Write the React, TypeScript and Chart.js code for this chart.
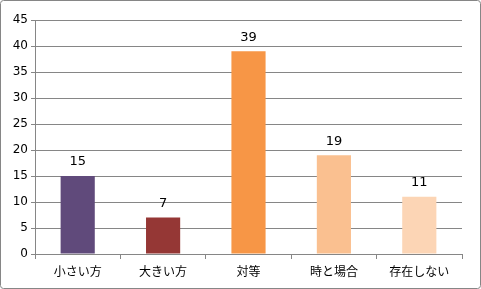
import React, { useEffect, useRef } from "react";
import { Chart, registerables } from "chart.js";

Chart.register(...registerables);

const categories = ["小さい方", "大きい方", "対等", "時と場合", "存在しない"];
const values = [15, 7, 39, 19, 11];
const barColors = ["#604A7B", "#953735", "#F79646", "#FAC090", "#FCD5B5"];
const yTicks = [0, 5, 10, 15, 20, 25, 30, 35, 40, 45];

const valueLabels = {
  id: "valueLabels",
  afterDatasetsDraw(chart: any) {
    const ctx = chart.ctx;
    const meta = chart.getDatasetMeta(0);
    ctx.save();
    ctx.font = '13px "DejaVu Sans", sans-serif';
    ctx.fillStyle = "#000000";
    ctx.textAlign = "center";
    ctx.textBaseline = "middle";
    meta.data.forEach((el: any, i: number) => {
      ctx.fillText(String(values[i]), el.x, el.y - 14);
    });
    ctx.restore();
  },
};

const frame = {
  id: "frame",
  beforeDraw(chart: any) {
    const ctx = chart.ctx;
    ctx.save();
    ctx.fillStyle = "#FFFFFF";
    ctx.fillRect(0, 0, chart.width, chart.height);
    ctx.strokeStyle = "#868686";
    ctx.lineWidth = 1;
    ctx.beginPath();
    (ctx as any).roundRect(0.5, 0.5, chart.width - 1, chart.height - 1, 3);
    ctx.stroke();
    ctx.restore();
  },
};

export default function App() {
  const ref = useRef<HTMLCanvasElement>(null);
  useEffect(() => {
    document.body.style.margin = "0";
    const chart = new Chart(ref.current!, {
      type: "bar",
      data: {
        labels: categories,
        datasets: [
          {
            data: values,
            backgroundColor: barColors,
            barPercentage: 0.4,
            categoryPercentage: 1,
          },
        ],
      },
      options: {
        responsive: false,
        animation: false,
        layout: { padding: { top: 20, right: 19, left: 0, bottom: 0 } },
        plugins: { legend: { display: false }, tooltip: { enabled: false } },
        scales: {
          x: {
            grid: {
              offset: true,
              drawOnChartArea: false,
              drawTicks: true,
              tickLength: 5,
              color: "#868686",
            },
            border: { color: "#868686" },
            ticks: {
              color: "#000000",
              font: { family: '"Noto Sans CJK JP", sans-serif', size: 12 },
              padding: 5,
            },
            afterFit(scale: any) {
              scale.height = 35;
            },
          },
          y: {
            min: 0,
            max: 45,
            afterBuildTicks(scale: any) {
              scale.ticks = yTicks.map((v) => ({ value: v }));
            },
            grid: { color: "#868686", tickLength: 4 },
            border: { color: "#868686" },
            ticks: {
              color: "#000000",
              font: { family: '"DejaVu Sans", sans-serif', size: 12 },
              padding: 3,
            },
            afterFit(scale: any) {
              scale.width = 35;
            },
          },
        },
      },
      plugins: [frame, valueLabels],
    });
    return () => chart.destroy();
  }, []);
  return <canvas ref={ref} width={481} height={289} style={{ display: "block" }} />;
}
